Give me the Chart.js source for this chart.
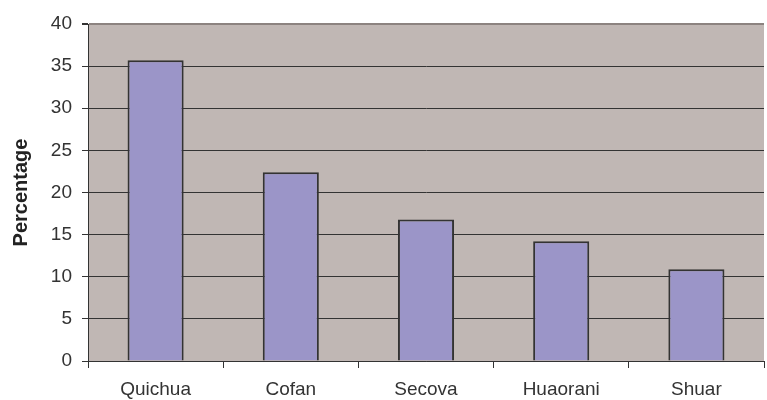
<!DOCTYPE html>
<html>
<head>
<meta charset="utf-8">
<script src="https://cdn.jsdelivr.net/npm/chart.js@4/dist/chart.umd.min.js"></script>
<style>
html,body{margin:0;padding:0;background:#fff;}
#wrap{width:767px;height:400px;position:relative;}
</style>
</head>
<body>
<div id="wrap"><canvas id="c" width="767" height="400"></canvas></div>
<script>
const categories = ["Quichua", "Cofan", "Secova", "Huaorani", "Shuar"];
const percentages = [35.7, 22.4, 16.8, 14.2, 10.9];
const yTicks = [0, 5, 10, 15, 20, 25, 30, 35, 40];
const yTitle = "Percentage";

const bgPlugin = {
  id: 'plotBg',
  beforeDraw(chart) {
    const {ctx, chartArea: a} = chart;
    ctx.save();
    ctx.fillStyle = '#c0b7b4';
    ctx.fillRect(a.left, a.top, a.right - a.left, a.bottom - a.top);
    ctx.restore();
  }
};

new Chart(document.getElementById('c'), {
  type: 'bar',
  data: {
    labels: categories,
    datasets: [{
      data: percentages,
      backgroundColor: '#9b95c8',
      borderColor: '#333333',
      borderWidth: 2,
      barPercentage: 0.415,
      categoryPercentage: 1.0
    }]
  },
  options: {
    responsive: false,
    animation: false,
    devicePixelRatio: 1,
    layout: { padding: { top: 24, right: 3, left: 0, bottom: 0 } },
    plugins: { legend: { display: false }, tooltip: { enabled: false } },
    scales: {
      x: {
        grid: {
          offset: true,
          drawOnChartArea: false,
          drawTicks: true,
          tickLength: 7,
          color: '#333333'
        },
        border: { display: true, color: '#333333', width: 1 },
        ticks: {
          color: '#333333',
          font: { family: 'Liberation Sans, Arial, sans-serif', size: 19 },
          padding: 10,
          maxRotation: 0
        },
        afterFit(s) { s.height = 39; }
      },
      y: {
        min: 0,
        max: 40,
        afterBuildTicks(s) { s.ticks = yTicks.map(v => ({ value: v })); },
        grid: {
          color: (c) => c.tick && c.tick.value === 40 ? '#8c8380' : '#333333',
          lineWidth: (c) => c.tick && c.tick.value === 40 ? 2 : 1,
          tickColor: '#333333',
          tickLength: 6,
          drawTicks: true
        },
        border: { display: true, color: '#333333', width: 1 },
        ticks: {
          color: '#333333',
          font: { family: 'Liberation Sans, Arial, sans-serif', size: 19 },
          padding: 10
        },
        title: {
          display: true,
          text: yTitle,
          color: '#222222',
          font: { family: 'Liberation Sans, Arial, sans-serif', size: 20, weight: 'bold' },
          padding: { top: 9, bottom: 4 }
        },
        afterFit(s) { s.width = 88; }
      }
    }
  },
  plugins: [bgPlugin]
});
</script>
</body>
</html>
